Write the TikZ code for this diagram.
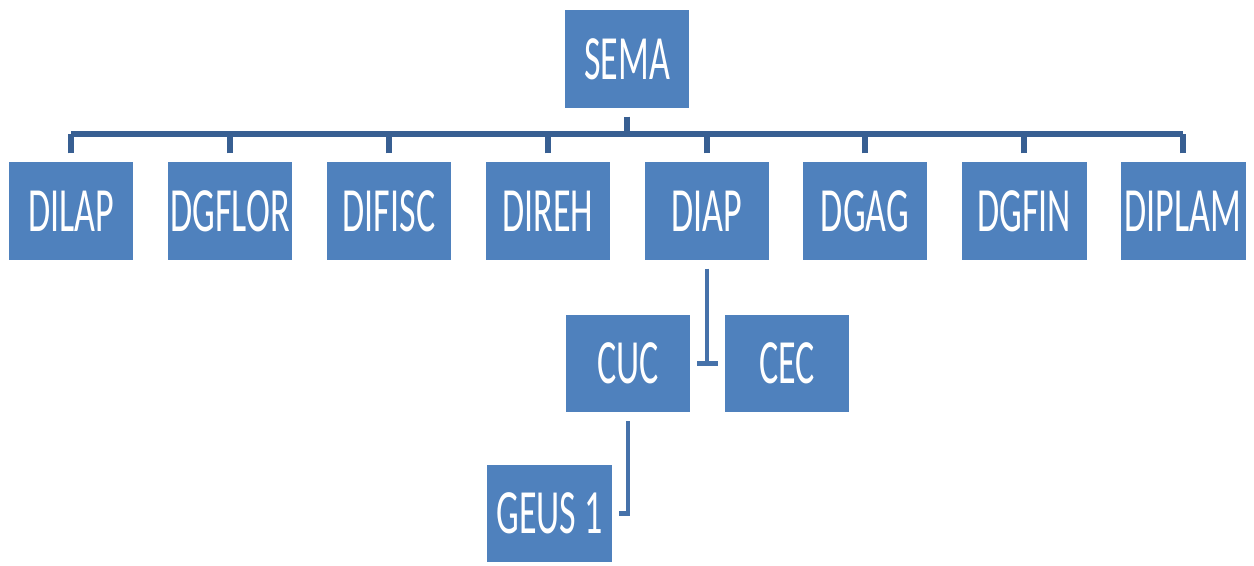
\documentclass[tikz,border=0pt]{standalone}
\usepackage{fontspec}
\setmainfont{Carlito}
\usepackage{tikz}
\usetikzlibrary{positioning}

\definecolor{boxblue}{HTML}{4F81BD}
\definecolor{lineblue}{HTML}{4672AA}
\definecolor{busblue}{HTML}{385F92}

\begin{document}
\begin{tikzpicture}[x=0.02cm,y=0.02cm,
	every node/.style={rectangle,fill=boxblue,text=white,inner sep=0pt,
		minimum width=2.5cm,minimum height=1.12cm,outer xsep=0.14cm,outer ysep=0.1cm,
		yscale=1.75,font=\fontsize{20.5}{24}\selectfont},
	edge/.style={draw=lineblue,line width=2.7pt},
	busedge/.style={draw=busblue,line width=3.4pt}]
		
		\useasboundingbox (0,0) rectangle (1254,565);

		%top node
		\node (sema) at (627,506) {SEMA};

		%directorates
		\node (n1) at (71,354) {DILAP};
		\node (n2) at (230,354) {DGFLOR};
		\node (n3) at (389,354) {DIFISC};
		\node (n4) at (548,354) {DIREH};
		\node (n5) at (707,354) {DIAP};
		\node (n6) at (865,354) {DGAG};
		\node (n7) at (1024,354) {DGFIN};
		\node (n8) at (1183,354) {DIPLAM};

		%lower nodes
		\node (cuc) at (628,201.5) {CUC};
		\node (cec) at (787,201.5) {CEC};
		\node (geus) at (549.5,51.5) {GEUS 1};

		\coordinate (bus) at (627,431);

		%edges
		\draw[busedge] (sema.south) -- (sema.south |- bus);
		\draw[busedge] (n1.north |- bus) -- (n8.north |- bus);
		\draw[busedge] (n1.north) -- (n1.north |- bus);
		\draw[busedge] (n2.north) -- (n2.north |- bus);
		\draw[busedge] (n3.north) -- (n3.north |- bus);
		\draw[busedge] (n4.north) -- (n4.north |- bus);
		\draw[busedge] (n5.north) -- (n5.north |- bus);
		\draw[busedge] (n6.north) -- (n6.north |- bus);
		\draw[busedge] (n7.north) -- (n7.north |- bus);
		\draw[busedge] (n8.north) -- (n8.north |- bus);

		\draw[edge] (n5.south) -- (n5.south |- cuc.east);
		\draw[edge] (cuc.east) -- (cec.west);
		\draw[edge] (cuc.south) -- (cuc.south |- geus.east) -- (geus.east);

		\end{tikzpicture}
\end{document}
